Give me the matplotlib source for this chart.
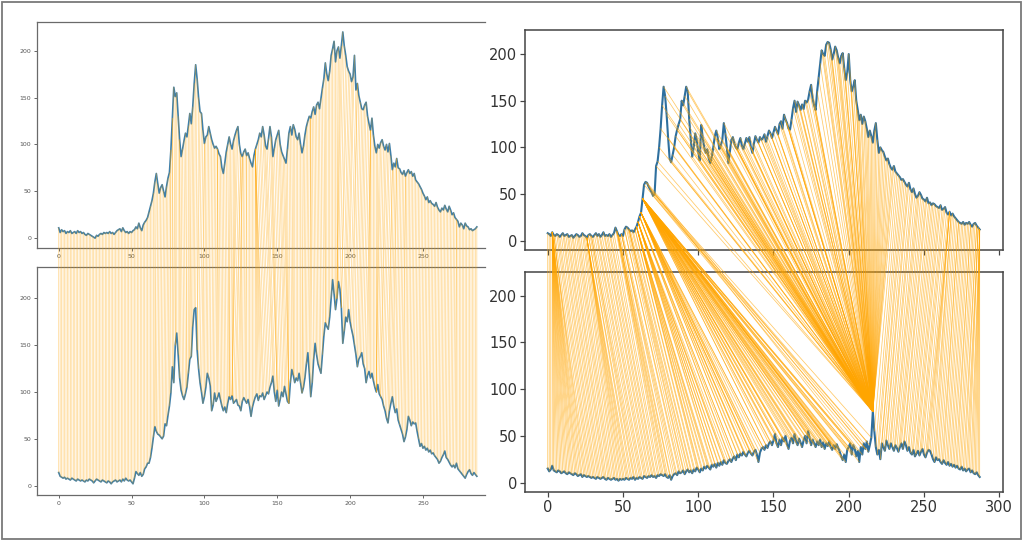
import numpy as np
import matplotlib
matplotlib.use("Agg")
import matplotlib.pyplot as plt
from matplotlib.patches import ConnectionPatch, Rectangle

# left screenshot, top and bottom series
left_top = [
    11, 6, 9, 7, 8, 5, 7, 6, 8, 5,
    6, 7, 5, 8, 6, 7, 5, 6, 4, 3,
    5, 4, 3, 2, 1, 0, 3, 2, 4, 5,
    4, 6, 5, 6, 5, 7, 5, 6, 4, 6,
    8, 9, 10, 7, 11, 8, 6, 7, 5, 7,
    6, 8, 9, 12, 10, 16, 11, 8, 14, 17,
    19, 22, 28, 34, 40, 48, 60, 69, 58, 48,
    54, 57, 50, 44, 55, 64, 70, 94, 128, 161,
    151, 155, 130, 105, 87, 95, 104, 112, 108, 120,
    133, 122, 140, 165, 185, 170, 150, 135, 133, 115,
    101, 108, 110, 119, 112, 105, 100, 96, 98, 95,
    90, 87, 75, 69, 80, 92, 100, 108, 100, 95,
    104, 110, 115, 119, 100, 90, 87, 92, 95, 88,
    91, 85, 80, 76, 88, 95, 100, 105, 112, 108,
    119, 110, 98, 95, 106, 119, 108, 87, 96, 105,
    110, 115, 100, 92, 88, 84, 80, 95, 112, 119,
    110, 121, 116, 108, 105, 112, 100, 91, 98, 110,
    119, 125, 130, 128, 135, 140, 132, 142, 145, 138,
    149, 160, 170, 187, 175, 168, 178, 195, 202, 210,
    188, 200, 204, 192, 205, 220, 205, 195, 183, 178,
    175, 167, 172, 195, 158, 165, 152, 145, 138, 137,
    142, 145, 130, 122, 115, 128, 110, 98, 91, 100,
    96, 102, 105, 98, 94, 100, 92, 101, 88, 73,
    80, 76, 85, 75, 74, 70, 68, 72, 66, 70,
    73, 69, 71, 66, 69, 62, 60, 58, 55, 52,
    48, 45, 41, 44, 38, 40, 37, 36, 34, 38,
    33, 30, 28, 32, 30, 35, 31, 28, 34, 30,
    25, 27, 22, 20, 18, 12, 16, 14, 10, 16,
    13, 12, 9, 10, 8, 9, 10, 12]

left_bottom = [
    14, 10, 9, 8, 9, 7, 8, 7, 6, 8,
    7, 6, 5, 7, 6, 5, 6, 5, 4, 6,
    5, 7, 6, 5, 3, 5, 7, 6, 5, 4,
    6, 5, 4, 3, 5, 4, 2, 4, 5, 6,
    4, 5, 6, 4, 7, 5, 8, 6, 5, 6,
    4, 2, 8, 15, 13, 11, 14, 10, 12, 18,
    20, 24, 24, 30, 40, 52, 63, 58, 55, 54,
    52, 50, 53, 66, 64, 75, 85, 99, 127, 110,
    150, 163, 140, 115, 102, 96, 92, 98, 105, 120,
    135, 138, 170, 188, 190, 145, 125, 110, 100, 88,
    95, 105, 120, 115, 107, 80, 86, 99, 90, 94,
    99, 92, 85, 80, 84, 78, 88, 95, 92, 96,
    88, 90, 92, 86, 85, 80, 90, 94, 91, 88,
    92, 85, 74, 84, 90, 95, 98, 91, 96, 95,
    99, 92, 96, 100, 98, 105, 110, 117, 100, 90,
    102, 85, 92, 100, 95, 106, 98, 90, 88, 110,
    124, 118, 110, 115, 112, 120, 110, 99, 105, 115,
    130, 142, 120, 95, 110, 135, 152, 140, 130, 125,
    120, 140, 160, 174, 170, 167, 180, 200, 220, 205,
    188, 200, 218, 210, 190, 152, 165, 180, 175, 188,
    175, 167, 160, 150, 140, 127, 135, 138, 142, 130,
    125, 110, 118, 122, 115, 120, 112, 105, 100, 108,
    98, 95, 92, 85, 80, 72, 67, 80, 88, 95,
    85, 78, 82, 70, 65, 60, 55, 47, 52, 60,
    74, 70, 64, 68, 66, 67, 58, 50, 42, 45,
    40, 42, 38, 40, 36, 38, 34, 35, 32, 30,
    28, 24, 26, 30, 33, 37, 30, 28, 25, 22,
    20, 22, 19, 24, 18, 16, 14, 12, 10, 8,
    12, 15, 17, 13, 11, 14, 12, 10]

# right screenshot, top and bottom series
right_top = [
    8, 7, 5, 9, 6, 5, 7, 6, 4, 6,
    8, 5, 6, 7, 4, 5, 6, 3, 5, 7,
    6, 4, 5, 8, 6, 5, 3, 6, 7, 5,
    4, 6, 8, 5, 7, 4, 6, 9, 5, 6,
    5, 7, 4, 6, 8, 14, 10, 6, 5, 7,
    5, 12, 15, 14, 12, 10, 11, 9, 12, 15,
    20, 26, 30, 45, 60, 63, 62, 58, 55, 52,
    48, 50, 80, 85, 100, 120, 145, 165, 155, 135,
    110, 88, 84, 92, 100, 112, 119, 125, 130, 150,
    145, 155, 165, 160, 130, 110, 90, 100, 115, 108,
    95, 86, 124, 110, 100, 94, 98, 88, 83, 90,
    100, 112, 118, 110, 98, 102, 108, 126, 115, 100,
    83, 95, 108, 111, 104, 100, 98, 105, 110, 102,
    98, 104, 110, 106, 111, 100, 94, 104, 112, 108,
    105, 111, 108, 110, 114, 106, 112, 118, 115, 110,
    116, 122, 118, 114, 125, 128, 120, 135, 130, 126,
    120, 119, 130, 142, 150, 138, 149, 145, 140, 146,
    141, 150, 148, 151, 160, 167, 152, 145, 140, 160,
    175, 190, 204, 200, 198, 210, 213, 212, 205, 194,
    200, 208, 204, 196, 190, 198, 201, 185, 172, 180,
    200, 172, 160, 165, 172, 150, 140, 129, 135, 125,
    133, 128, 120, 111, 118, 112, 105, 118, 126, 108,
    94, 100, 97, 95, 90, 86, 88, 82, 78, 76,
    80, 74, 72, 70, 68, 65, 66, 63, 60, 58,
    62, 55, 52, 56, 50, 46, 48, 52, 49, 45,
    44, 42, 46, 40, 41, 38, 40, 39, 37, 36,
    35, 38, 33, 34, 36, 30, 28, 31, 27, 29,
    26, 24, 22, 20, 19, 18, 20, 17, 19, 18,
    20, 17, 15, 18, 19, 16, 14, 12]

right_bottom = [
    15, 12, 14, 18, 13, 12, 11, 13, 12, 10,
    11, 12, 10, 9, 11, 10, 9, 8, 10, 9,
    7, 8, 9, 6, 8, 7, 6, 7, 6, 5,
    6, 5, 4, 6, 5, 4, 5, 6, 4, 3,
    5, 4, 3, 4, 5, 3, 4, 2, 4, 3,
    4, 3, 5, 4, 3, 5, 4, 6, 3, 5,
    4, 6, 5, 4, 7, 6, 5, 7, 6, 8,
    6, 7, 5, 8, 7, 9, 8, 7, 9, 6,
    5, 8, 3, 7, 9, 10, 8, 12, 10, 11,
    13, 9, 12, 14, 11, 13, 10, 14, 12, 16,
    14, 11, 15, 13, 17, 15, 18, 16, 14, 19,
    17, 20, 16, 21, 18, 22, 19, 24, 21, 20,
    23, 25, 22, 26, 28, 24, 30, 27, 31, 29,
    33, 30, 28, 32, 34, 31, 29, 33, 35, 30,
    22, 32, 36, 38, 35, 40, 37, 42, 44, 40,
    45, 52, 42, 38, 46, 40, 48, 44, 50, 41,
    36, 45, 48, 42, 52, 44, 40, 47, 43, 38,
    45, 50, 42, 55, 48, 40, 46, 42, 38, 44,
    40, 46, 38, 43, 36, 42, 39, 44, 38, 35,
    40, 36, 41, 37, 33, 28, 24, 30, 22, 35,
    38, 42, 30, 40, 36, 28, 34, 22, 38, 30,
    42, 36, 44, 33, 40, 48, 76, 55, 38, 30,
    35, 25, 42, 38, 34, 45, 40, 36, 42, 38,
    34, 40, 37, 33, 38, 42, 36, 44, 40, 34,
    38, 32, 30, 35, 28, 31, 34, 29, 33, 36,
    30, 27, 32, 35, 34, 30, 25, 22, 27, 24,
    25, 22, 20, 24, 21, 19, 22, 18, 20, 17,
    19, 16, 18, 15, 14, 17, 13, 15, 12, 14,
    15, 11, 13, 10, 9, 11, 8, 6]

xticks_left = [0, 50, 100, 150, 200, 250]
xticks_right = [0, 50, 100, 150, 200, 250, 300]
yticks = [0, 50, 100, 150, 200]


def dtw_path(a, b, penalty=0.0):
    # dynamic time warping, squared distance, penalty on non-diagonal steps
    a = [float(v) for v in a]
    b = [float(v) for v in b]
    n, m = len(a), len(b)
    inf = float("inf")
    acc = [[inf] * (m + 1) for _ in range(n + 1)]
    acc[0][0] = 0.0
    for i in range(1, n + 1):
        ai = a[i - 1]
        prev = acc[i - 1]
        row = acc[i]
        for j in range(1, m + 1):
            d = ai - b[j - 1]
            row[j] = d * d + min(prev[j - 1], prev[j] + penalty, row[j - 1] + penalty)
    i, j = n, m
    path = [(i - 1, j - 1)]
    while i > 1 or j > 1:
        opts = [acc[i - 1][j - 1], acc[i - 1][j] + penalty, acc[i][j - 1] + penalty]
        k = int(np.argmin(opts))
        if k == 0:
            i, j = i - 1, j - 1
        elif k == 1:
            i -= 1
        else:
            j -= 1
        path.append((i - 1, j - 1))
    return path[::-1]


W, H = 1023, 541
fig = plt.figure(figsize=(W / 100, H / 100), dpi=100)


def px_axes(x0, y0, x1, y1):
    return fig.add_axes([x0 / W, 1 - y1 / H, (x1 - x0) / W, (y1 - y0) / H])


def style(ax, fs, col, spine_col, lw, tick_len, labels_x=True, hide_right=False):
    for s in ax.spines.values():
        s.set_color(spine_col)
        s.set_linewidth(lw)
    if hide_right:
        ax.spines["right"].set_visible(False)
    ax.tick_params(labelsize=fs, colors=spine_col, labelcolor=col,
                   length=tick_len, width=lw * 0.8, pad=2)
    if not labels_x:
        ax.tick_params(axis="x", labelbottom=False)


def draw_pair(ax_a, ax_b, s1, s2, penalty, color, alpha, lw):
    for r, c in dtw_path(s1, s2, penalty):
        con = ConnectionPatch(xyA=(r, s1[r]), coordsA=ax_a.transData,
                              xyB=(c, s2[c]), coordsB=ax_b.transData,
                              color=color, alpha=alpha, linewidth=lw)
        fig.add_artist(con)


# left panel (smaller, cropped on the right)
axL1 = px_axes(37, 22, 485, 248)
axL2 = px_axes(37, 267, 485, 495)
axL1.plot(np.arange(len(left_top)), left_top, color="#3f7fa8", lw=1.2)
axL2.plot(np.arange(len(left_bottom)), left_bottom, color="#3f7fa8", lw=1.2)
axL1.set_ylim(-10.5, 230.6)
axL2.set_ylim(-10, 233.5)
for ax in (axL1, axL2):
    ax.set_xlim(-14.9, 292.6)
    ax.set_xticks(xticks_left)
    ax.set_yticks(yticks)
    style(ax, 4.5, "#555555", "#6a6a6a", 0.9, 2, hide_right=True)

# right panel
axR1 = px_axes(525, 30, 1003, 250)
axR2 = px_axes(525, 272, 1003, 492)
axR1.plot(np.arange(len(right_top)), right_top, color="#2e6f9e", lw=1.5)
axR2.plot(np.arange(len(right_bottom)), right_bottom, color="#2e6f9e", lw=1.5)
axR1.set_ylim(-10, 225.8)
axR2.set_ylim(-10.1, 225.3)
for ax in (axR1, axR2):
    ax.set_xlim(-15.1, 302.5)
    ax.set_xticks(xticks_right)
    ax.set_yticks(yticks)
style(axR1, 10.5, "#333333", "#444444", 1.1, 3.5, labels_x=False)
style(axR2, 10.5, "#333333", "#444444", 1.1, 3.5)

draw_pair(axL1, axL2, left_top, left_bottom, 120.0, "orange", 0.45, 0.5)
draw_pair(axR1, axR2, right_top, right_bottom, 700.0, "orange", 0.6, 0.55)

# outer frame round the whole picture
fig.add_artist(Rectangle((2 / W, 2 / H), 1 - 4 / W, 1 - 4 / H, transform=fig.transFigure,
                         fill=False, edgecolor="#7a7a7a", linewidth=1.3))

fig.savefig("out.png", dpi=100)
